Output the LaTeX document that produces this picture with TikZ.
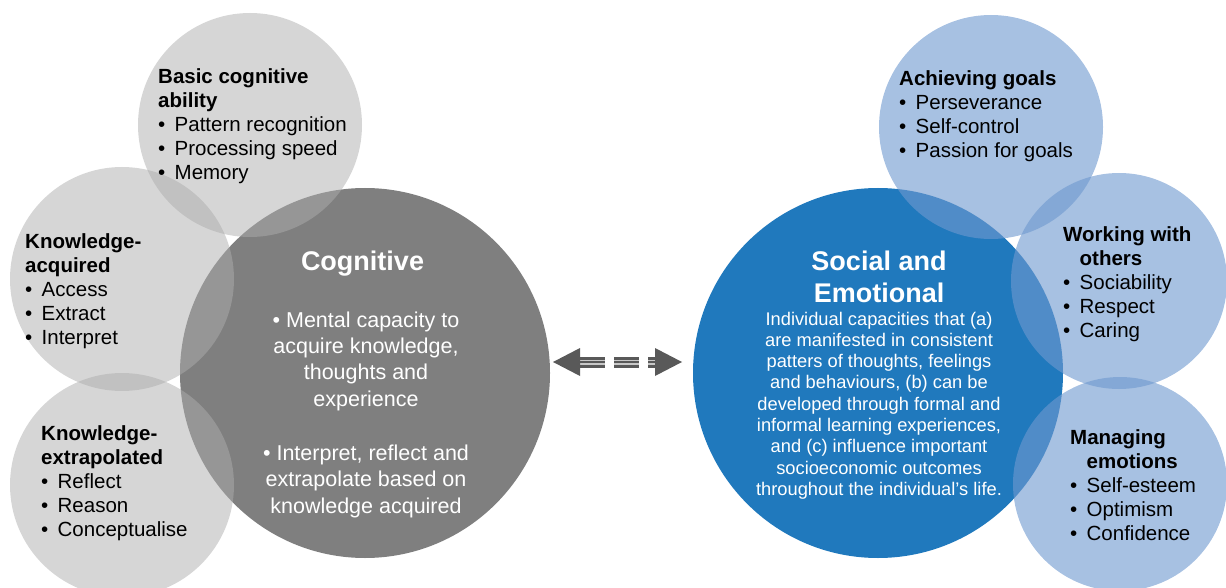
\documentclass[tikz,border=0pt]{standalone}
\usepackage{fontspec}
\setmainfont{Liberation Sans}
\definecolor{coggray}{RGB}{127,127,127}
\definecolor{cogpale}{RGB}{173,173,173}
\definecolor{socblue}{RGB}{32,121,189}
\definecolor{socpale}{RGB}{111,153,207}
\definecolor{arrowgray}{RGB}{89,89,89}
\definecolor{stripegray}{RGB}{200,200,200}
\newcommand{\bul}{\makebox[16.5pt][l]{\textbullet}}
\begin{document}
\begin{tikzpicture}[x=1pt,y=-1pt,line join=round,
	graydisc/.style={circle,inner sep=0pt,outer sep=0pt,minimum size=#1,fill=cogpale,fill opacity=0.5},
	bluedisc/.style={circle,inner sep=0pt,outer sep=0pt,minimum size=#1,fill=socpale,fill opacity=0.61},
	bigdisc/.style={circle,inner sep=0pt,outer sep=0pt,minimum size=370pt},
	itemtext/.style={anchor=base west,align=left,inner sep=0pt,font=\fontsize{20.5}{24}\selectfont},
	titletext/.style={anchor=base,align=center,inner sep=0pt,text=white,font=\fontsize{27}{32}\selectfont\bfseries},
	shaft/.style={arrowgray,line width=11pt,dash pattern=on 25pt off 9pt},
	stripe/.style={draw=stripegray,line width=1.2pt,double=arrowgray,double distance=2.6pt,dash pattern=on 25pt off 9pt}]
	\useasboundingbox (0,0) rectangle (1226,588);
	\node[bigdisc,fill=coggray] (cog) at (365,373) {};
	\node[bigdisc,fill=socblue] (soc) at (878,373) {};
	\foreach \n/\x/\y in {basic/250/125, acq/122/279, extra/122/485}{
		\node[graydisc=224pt] (\n) at (\x,\y) {};
	}
	\foreach \n/\x/\y/\r in {goals/991/127/224, others/1119/281/216, emot/1120/484/214}{
		\node[bluedisc=\r pt] (\n) at (\x,\y) {};
	}
	
	% anchors sit on the baseline of the last line
	\node[itemtext] (basictxt) at (158,180) {\textbf{Basic cognitive}\\\textbf{ability}\\\bul Pattern recognition\\\bul Processing speed\\\bul Memory};
	\node[itemtext] (acqtxt) at (25,344) {\textbf{Knowledge-}\\\textbf{acquired}\\\bul Access\\\bul Extract\\\bul Interpret};
	\node[itemtext] (extratxt) at (41,536) {\textbf{Knowledge-}\\\textbf{extrapolated}\\\bul Reflect\\\bul Reason\\\bul Conceptualise};
	\node[itemtext] (goalstxt) at (899,158) {\textbf{Achieving goals}\\\bul Perseverance\\\bul Self-control\\\bul Passion for goals};
	\node[itemtext] (otherstxt) at (1063,337) {\textbf{Working with}\\\hspace*{16.5pt}\textbf{others}\\\bul Sociability\\\bul Respect\\\bul Caring};
	\node[itemtext] (emottxt) at (1070,540) {\textbf{Managing}\\\hspace*{16.5pt}\textbf{emotions}\\\bul Self-esteem\\\bul Optimism\\\bul Confidence};
	
	\node[titletext] (cogtitle) at (362.5,270) {Cognitive};
	\node[anchor=base,align=center,inner sep=0pt,text=white,font=\fontsize{21.5}{26.4}\selectfont] (cogbody) at (366,513)
		{\textbullet\ Mental capacity to\\acquire knowledge,\\thoughts and\\experience\\[27.6pt]\textbullet\ Interpret, reflect and\\extrapolate based on\\knowledge acquired};
	\node[titletext] (soctitle) at (879,302) {Social and\\Emotional};
	\node[anchor=base,align=center,inner sep=0pt,text=white,font=\fontsize{18.3}{21.3}\selectfont] (socbody) at (879,495.4)
		{Individual capacities that (a)\\are manifested in consistent\\patters of thoughts, feelings\\and behaviours, (b) can be\\developed through formal and\\informal learning experiences,\\and (c) influence important\\socioeconomic outcomes\\throughout the individual’s life.};
	
	\coordinate (al) at ([shift={(3,-11)}]cog.east);
	\coordinate (ar) at ([shift={(-11,-11)}]soc.west);
	\draw[shaft] ([xshift=27pt]al) -- ([xshift=-27pt]ar);
	\draw[stripe] ([xshift=27pt]al) -- ([xshift=-27pt]ar);
	\foreach \p/\s in {al/1,ar/-1}{
		\fill[arrowgray] (\p) -- ++({27*\s},-14) -- ++(0,28) -- cycle;
	}
\end{tikzpicture}
\end{document}
